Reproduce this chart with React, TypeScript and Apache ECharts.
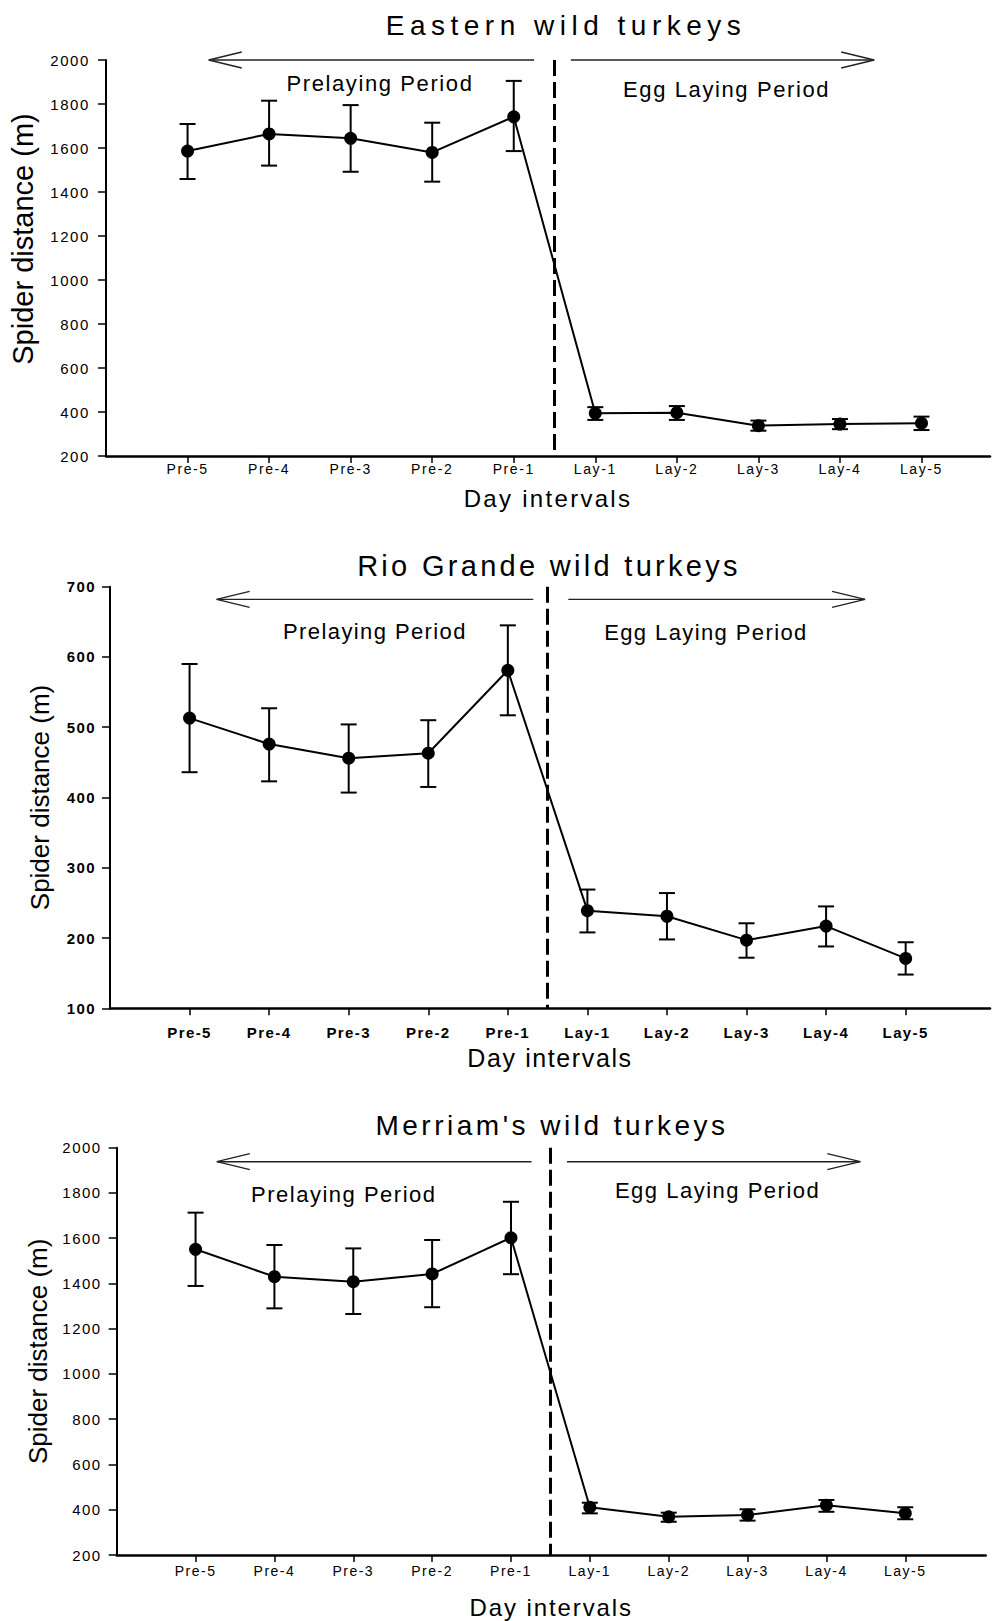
import React, { useEffect, useRef } from "react";
import * as echarts from "echarts";

// ---------- data ----------
const categories = ["Pre-5", "Pre-4", "Pre-3", "Pre-2", "Pre-1", "Lay-1", "Lay-2", "Lay-3", "Lay-4", "Lay-5"];

const easternMean = [1586, 1664, 1644, 1580, 1742, 394, 397, 338, 345, 349];
const easternLow = [1459, 1520, 1492, 1447, 1586, 364, 364, 315, 322, 318];
const easternHigh = [1709, 1815, 1795, 1715, 1905, 422, 427, 361, 368, 379];

const rioMean = [513, 476, 456, 463, 581, 239, 231, 197, 217, 171];
const rioLow = [436, 423, 407, 415, 517, 208, 198, 172, 188, 148];
const rioHigh = [590, 527, 504, 510, 645, 269, 264, 221, 245, 194];

const merriamMean = [1551, 1430, 1408, 1442, 1602, 411, 369, 377, 420, 384];
const merriamLow = [1389, 1290, 1265, 1295, 1441, 384, 347, 352, 391, 358];
const merriamHigh = [1713, 1570, 1555, 1592, 1761, 431, 387, 402, 443, 411];

const titles = ["Eastern wild turkeys", "Rio Grande wild turkeys", "Merriam's wild turkeys"];
const periodNames = ["Prelaying Period", "Egg Laying Period"];
const yAxisName = "Spider distance (m)";
const xAxisName = "Day intervals";

// y scales [min, max, interval]
const easternScale = [200, 2000, 200];
const rioScale = [100, 700, 100];
const merriamScale = [200, 2000, 200];

// boundary between periods (x position, in category units)
const periodBoundary = 5.5;

// annotation anchors in data coordinates: [xStart, xEnd, y, headSide]
const easternArrows = [[1.26, 5.25, 2000, -1], [5.7, 9.42, 2000, 1]];
const rioArrows = [[1.34, 5.32, 682, -1], [5.76, 9.49, 682, 1]];
const merriamArrows = [[1.27, 5.26, 1938, -1], [5.71, 9.43, 1938, 1]];

const easternPeriodPos = [[3.36, 1891], [7.61, 1868]];
const rioPeriodPos = [[3.33, 636], [7.49, 634.5]];
const merriamPeriodPos = [[2.88, 1794], [7.62, 1813]];

const FONT = "Liberation Sans, Arial, sans-serif";
const tickPositions = categories.map((_, i) => i + 1);

type Panel = {
  id: string;
  top: number;
  height: number;
  grid: { left: number; top: number; width: number; height: number };
  xMax: number;
  title: string;
  titlePos: [number, number];
  titleSize: number;
  scale: number[];
  mean: number[];
  low: number[];
  high: number[];
  arrows: number[][];
  periodPos: number[][];
  bold: boolean;
  yLabelSize: number;
  yLabelMargin: number;
  xLabelSize: number;
  xLabelMargin: number;
  periodSize: number;
  xNameSize: number;
  xNameGap: number;
  yNameSize: number;
  yNameGap: number;
  yNameShift: number;
};

const panels: Panel[] = [
  {
    id: "p1", top: 0, height: 525,
    grid: { left: 106, top: 60, width: 884, height: 396 }, xMax: 10.84,
    title: titles[0], titlePos: [566, 25], titleSize: 28,
    scale: easternScale, mean: easternMean, low: easternLow, high: easternHigh,
    arrows: easternArrows, periodPos: easternPeriodPos, bold: false,
    yLabelSize: 15, yLabelMargin: 16, xLabelSize: 14, xLabelMargin: 6,
    periodSize: 22, xNameSize: 24, xNameGap: 30, yNameSize: 29, yNameGap: 69, yNameShift: 38,
  },
  {
    id: "p2", top: 525, height: 552,
    grid: { left: 110, top: 61.7, width: 880, height: 421.6 }, xMax: 11.06,
    title: titles[1], titlePos: [549, 41], titleSize: 29,
    scale: rioScale, mean: rioMean, low: rioLow, high: rioHigh,
    arrows: rioArrows, periodPos: rioPeriodPos, bold: true,
    yLabelSize: 15, yLabelMargin: 14, xLabelSize: 15, xLabelMargin: 17,
    periodSize: 22, xNameSize: 25, xNameGap: 36, yNameSize: 26, yNameGap: 57, yNameShift: 0,
  },
  {
    id: "p3", top: 1077, height: 544,
    grid: { left: 116.7, top: 70.7, width: 869, height: 407.3 }, xMax: 11.02,
    title: titles[2], titlePos: [552, 48], titleSize: 28,
    scale: merriamScale, mean: merriamMean, low: merriamLow, high: merriamHigh,
    arrows: merriamArrows, periodPos: merriamPeriodPos, bold: false,
    yLabelSize: 15, yLabelMargin: 15, xLabelSize: 14, xLabelMargin: 9,
    periodSize: 22, xNameSize: 24, xNameGap: 40, yNameSize: 26, yNameGap: 66, yNameShift: 0,
  },
];

function buildOption(p: Panel): any {
  const [ymin, ymax, yint] = p.scale;
  const weight = p.bold ? "bold" : "normal";
  return {
    animation: false,
    backgroundColor: "transparent",
    graphic: [
      {
        type: "text",
        x: p.titlePos[0],
        y: p.titlePos[1],
        style: {
          text: p.title,
          fill: "#000",
          fontSize: p.titleSize,
          fontFamily: FONT,
          align: "center",
          verticalAlign: "middle",
        },
      },
    ],
    grid: { ...p.grid, containLabel: false, outerBoundsMode: "none" },
    xAxis: {
      type: "value",
      min: 0,
      max: p.xMax,
      interval: 1,
      name: xAxisName,
      nameLocation: "middle",
      nameGap: p.xNameGap,
      nameTextStyle: { color: "#000", fontSize: p.xNameSize, fontFamily: FONT },
      axisLine: { show: true, onZero: false, lineStyle: { color: "#000", width: 2.5 } },
      axisTick: { show: true, length: 7, customValues: tickPositions, lineStyle: { color: "#000", width: 1.5 } },
      axisLabel: {
        show: true,
        customValues: tickPositions,
        margin: p.xLabelMargin,
        color: "#000",
        fontSize: p.xLabelSize,
        fontWeight: weight,
        fontFamily: FONT,
        formatter: (v: number) => categories[Math.round(v) - 1] ?? "",
      },
      splitLine: { show: false },
    },
    yAxis: {
      type: "value",
      min: ymin,
      max: ymax,
      interval: yint,
      name: yAxisName,
      nameLocation: "middle",
      nameGap: p.yNameGap,
      nameRotate: 90,
      nameTextStyle: {
        color: "#000",
        fontSize: p.yNameSize,
        fontFamily: FONT,
        padding: [0, 0, 0, p.yNameShift],
      },
      axisLine: { show: true, lineStyle: { color: "#000", width: 2 } },
      axisTick: { show: true, length: 8, lineStyle: { color: "#000", width: 1.5 } },
      axisLabel: {
        margin: p.yLabelMargin,
        color: "#000",
        fontSize: p.yLabelSize,
        fontWeight: weight,
        fontFamily: FONT,
        formatter: (v: number) => String(v),
      },
      splitLine: { show: false },
    },
    series: [
      {
        type: "custom",
        name: "errors",
        silent: true,
        clip: false,
        z: 3,
        data: categories.map((_, i) => [i + 1, p.low[i], p.high[i]]),
        encode: { x: 0, y: [1, 2] },
        renderItem: (params: any, api: any) => {
          const x = api.value(0);
          const lo = api.coord([x, api.value(1)]);
          const hi = api.coord([x, api.value(2)]);
          const hw = 8;
          const st = { stroke: "#000", lineWidth: 2 };
          return {
            type: "group",
            children: [
              { type: "line", shape: { x1: lo[0], y1: lo[1], x2: hi[0], y2: hi[1] }, style: st },
              { type: "line", shape: { x1: lo[0] - hw, y1: lo[1], x2: lo[0] + hw, y2: lo[1] }, style: st },
              { type: "line", shape: { x1: hi[0] - hw, y1: hi[1], x2: hi[0] + hw, y2: hi[1] }, style: st },
            ],
          };
        },
      },
      {
        type: "line",
        name: "mean",
        z: 5,
        data: categories.map((_, i) => [i + 1, p.mean[i]]),
        symbol: "circle",
        symbolSize: 13,
        showSymbol: true,
        itemStyle: { color: "#000" },
        lineStyle: { color: "#000", width: 2 },
        markLine: {
          silent: true,
          symbol: ["none", "none"],
          label: { show: false },
          lineStyle: { color: "#000", width: 3, type: [16, 6] },
          data: [[{ coord: [periodBoundary, ymax] }, { coord: [periodBoundary, ymin] }]],
        },
      },
      {
        type: "custom",
        name: "arrows",
        silent: true,
        clip: false,
        z: 2,
        data: p.arrows,
        encode: { x: [0, 1], y: 2 },
        renderItem: (params: any, api: any) => {
          const a = api.coord([api.value(0), api.value(2)]);
          const b = api.coord([api.value(1), api.value(2)]);
          const side = api.value(3);
          const tip = side < 0 ? a : b;
          const back = side < 0 ? 33 : -33;
          const st = { stroke: "#222", lineWidth: 1.3, fill: "none" };
          return {
            type: "group",
            children: [
              { type: "line", shape: { x1: a[0], y1: a[1], x2: b[0], y2: b[1] }, style: st },
              {
                type: "polyline",
                shape: { points: [[tip[0] + back, tip[1] - 8], [tip[0], tip[1]], [tip[0] + back, tip[1] + 8]] },
                style: st,
              },
            ],
          };
        },
      },
      {
        type: "custom",
        name: "periods",
        silent: true,
        clip: false,
        z: 2,
        data: p.periodPos,
        encode: { x: 0, y: 1 },
        renderItem: (params: any, api: any) => {
          const pt = api.coord([api.value(0), api.value(1)]);
          return {
            type: "text",
            x: pt[0],
            y: pt[1],
            style: {
              text: periodNames[params.dataIndex],
              fill: "#000",
              fontSize: p.periodSize,
              fontFamily: FONT,
              align: "center",
              verticalAlign: "middle",
            },
          };
        },
      },
    ],
  };
}

const css = `
#p1 text { letter-spacing: 1.6px; }
#p1 text[style*="28px"] { letter-spacing: 5.5px; }
#p1 text[style*="29px"] { letter-spacing: 0px; }
#p1 text[style*="24px"] { letter-spacing: 2.3px; }
#p2 text { letter-spacing: 1.4px; }
#p2 text[style*="29px"] { letter-spacing: 3.3px; }
#p2 text[style*="26px"] { letter-spacing: 0px; }
#p2 text[style*="25px"] { letter-spacing: 1.6px; }
#p3 text { letter-spacing: 1.5px; }
#p3 text[style*="28px"] { letter-spacing: 3.5px; }
#p3 text[style*="26px"] { letter-spacing: 0px; }
#p3 text[style*="24px"] { letter-spacing: 1.9px; }
`;

export default function App() {
  const r1 = useRef<HTMLDivElement>(null);
  const r2 = useRef<HTMLDivElement>(null);
  const r3 = useRef<HTMLDivElement>(null);

  useEffect(() => {
    const refs = [r1, r2, r3];
    const charts = panels.map((p, i) => {
      const c = echarts.init(refs[i].current as HTMLDivElement, null, { renderer: "svg" });
      c.setOption(buildOption(p));
      return c;
    });
    return () => charts.forEach((c) => c.dispose());
  }, []);

  const refs = [r1, r2, r3];
  return (
    <div style={{ position: "absolute", left: 0, top: 0, width: 993, height: 1621, background: "#fff" }}>
      <style>{css}</style>
      {panels.map((p, i) => (
        <div
          key={p.id}
          id={p.id}
          ref={refs[i]}
          style={{ position: "absolute", left: 0, top: p.top, width: 993, height: p.height }}
        />
      ))}
    </div>
  );
}
